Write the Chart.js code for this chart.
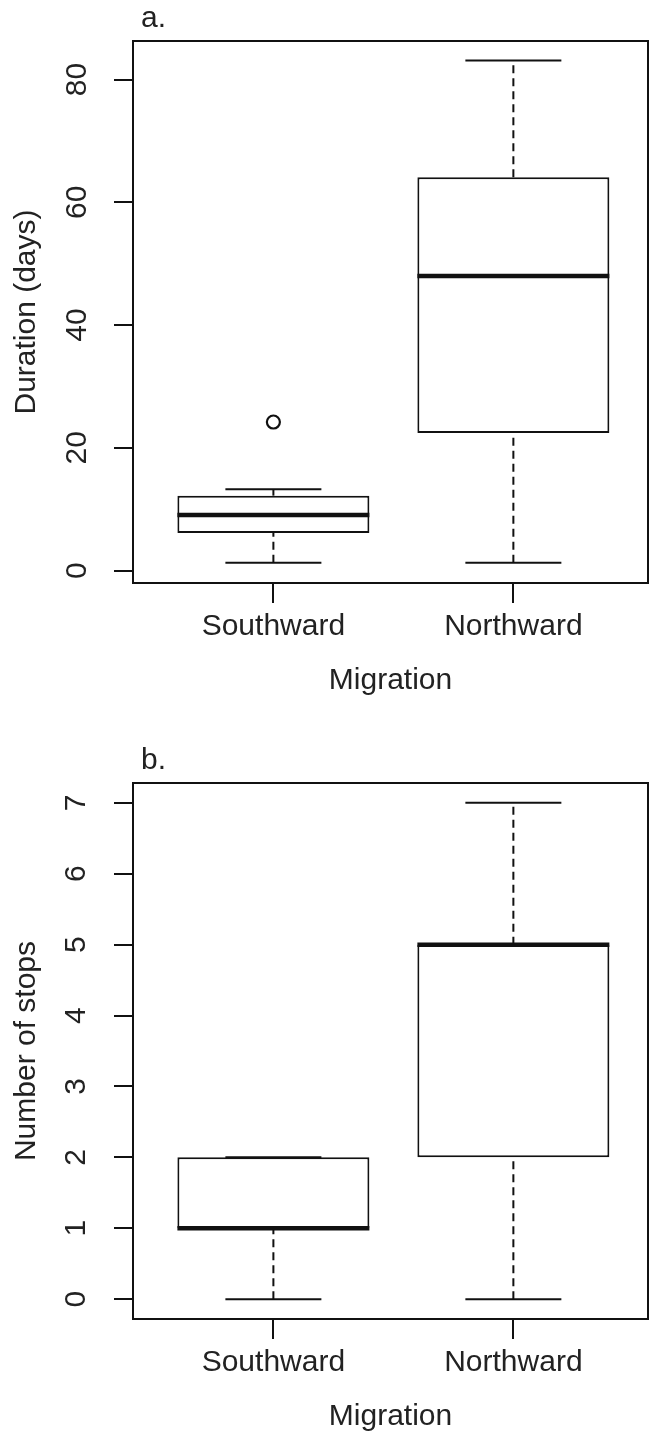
<!DOCTYPE html>
<html lang="en">

<head>
    <meta charset="UTF-8">
    <title>Migration duration and stops</title>
    <script src="https://cdn.jsdelivr.net/npm/chart.js"></script>
    <style>
        body { margin: 0; background: #fff; }
        .panel { position: absolute; left: 0; width: 649px; height: 699px; }
        #panelA { top: 0; }
        #panelB { top: 736px; }
    </style>
</head>

<body>
    <div class="panel" id="panelA"><canvas id="chartA" width="649" height="699"></canvas></div>
    <div class="panel" id="panelB"><canvas id="chartB" width="649" height="699"></canvas></div>

    <script>
        // Groups on the x axis
        const groups = ['Southward', 'Northward'];

        // a. Duration (days): whisker ends, quartiles, median, outliers
        const durMin = [1.25, 1.25];
        const durQ1 = [6.1, 22.4];
        const durMedian = [9.05, 48.0];
        const durQ3 = [12.2, 64.1];
        const durMax = [13.25, 83.1];
        const durOutliers = [[24.2], []];
        const durTicks = [0, 20, 40, 60, 80];

        // b. Number of stops
        const stopMin = [0, 0];
        const stopQ1 = [1, 2];
        const stopMedian = [1, 5];
        const stopQ3 = [2, 5];
        const stopMax = [2, 7];
        const stopOutliers = [[], []];
        const stopTicks = [0, 1, 2, 3, 4, 5, 6, 7];

        const ink = '#111';
        const textColor = '#222';
        const font = { family: "'Liberation Sans', Arial, sans-serif", size: 30 };

        // Outer box around the plotting region + panel letter
        const frame = {
            id: 'frame',
            afterDraw(chart, args, opts) {
                const { ctx, chartArea: a } = chart;
                ctx.save();
                ctx.strokeStyle = ink;
                ctx.lineWidth = 2;
                ctx.strokeRect(a.left, a.top, a.right - a.left, a.bottom - a.top);
                ctx.fillStyle = textColor;
                ctx.font = '30px ' + font.family;
                ctx.textBaseline = 'alphabetic';
                ctx.textAlign = 'left';
                ctx.fillText(opts.label, a.left + 8, a.top - 14);
                ctx.restore();
            }
        };

        function segment(points, dashed, width) {
            return {
                type: 'line',
                data: points,
                borderColor: ink,
                borderWidth: width,
                borderDash: dashed ? [8, 5] : [],
                borderCapStyle: 'butt',
                pointRadius: 0,
                fill: false,
                order: 1
            };
        }

        // Build box plot pieces from the summary arrays
        function boxDatasets(mins, q1s, meds, q3s, maxs, outs) {
            const half = 0.4, cap = 0.2;
            const sets = [];
            meds.forEach((m, i) => {
                const x = i + 1;
                const s = segment([{ x: x - half, y: m }, { x: x + half, y: m }], false, 4.5);
                s.order = 0;
                sets.push(s);
            });
            sets.push({
                type: 'bar',
                data: q1s.map((q, i) => ({ x: i + 1, y: [q, q3s[i]] })),
                backgroundColor: '#fff',
                borderColor: ink,
                borderWidth: 2,
                borderSkipped: false,
                barPercentage: 0.8,
                categoryPercentage: 1,
                order: 2
            });
            mins.forEach((lo, i) => {
                const x = i + 1;
                if (lo < q1s[i]) sets.push(segment([{ x: x, y: lo }, { x: x, y: q1s[i] }], true, 2));
                if (maxs[i] > q3s[i]) sets.push(segment([{ x: x, y: q3s[i] }, { x: x, y: maxs[i] }], true, 2));
                sets.push(segment([{ x: x - cap, y: lo }, { x: x + cap, y: lo }], false, 2));
                sets.push(segment([{ x: x - cap, y: maxs[i] }, { x: x + cap, y: maxs[i] }], false, 2));
            });
            const pts = [];
            outs.forEach((list, i) => list.forEach(v => pts.push({ x: i + 1, y: v })));
            if (pts.length) {
                sets.push({
                    type: 'scatter',
                    data: pts,
                    pointStyle: 'circle',
                    pointRadius: 6.5,
                    pointBorderWidth: 2.2,
                    pointBackgroundColor: '#fff',
                    pointBorderColor: ink,
                    order: 0
                });
            }
            return sets;
        }

        function makeChart(id, label, yTitle, datasets, yTicks, yMin, yMax, tickPad) {
            return new Chart(document.getElementById(id), {
                type: 'bar',
                data: { datasets: datasets },
                plugins: [frame],
                options: {
                    responsive: false,
                    animation: false,
                    layout: { autoPadding: false, padding: { top: 41, right: 1, bottom: 0, left: 0 } },
                    plugins: {
                        legend: { display: false },
                        tooltip: { enabled: false },
                        frame: { label: label }
                    },
                    scales: {
                        x: {
                            type: 'linear',
                            offset: false,
                            min: 0.415,
                            max: 2.561,
                            afterFit: s => { s.height = 116; },
                            afterBuildTicks: s => { s.ticks = groups.map((g, i) => ({ value: i + 1 })); },
                            ticks: {
                                callback: v => groups[v - 1],
                                font: font, color: textColor,
                                padding: 6, maxRotation: 0, autoSkip: false
                            },
                            grid: { offset: false, drawOnChartArea: false, tickLength: 20, color: ink, lineWidth: 2 },
                            border: { display: false },
                            title: { display: true, text: 'Migration', font: font, color: textColor, padding: { top: 0, bottom: 0 } }
                        },
                        y: {
                            type: 'linear',
                            min: yMin,
                            max: yMax,
                            afterFit: s => { s.width = 133; },
                            afterBuildTicks: s => { s.ticks = yTicks.map(v => ({ value: v })); },
                            ticks: {
                                font: font, color: textColor,
                                padding: tickPad, minRotation: 90, maxRotation: 90, crossAlign: 'center'
                            },
                            grid: { drawOnChartArea: false, tickLength: 19, color: ink, lineWidth: 2 },
                            border: { display: false },
                            title: { display: true, text: yTitle, font: font, color: textColor, padding: { top: 9, bottom: 0 } }
                        }
                    }
                }
            });
        }

        makeChart('chartA', 'a.', 'Duration (days)',
            boxDatasets(durMin, durQ1, durMedian, durQ3, durMax, durOutliers),
            durTicks, -2.03, 86.28, 20);

        makeChart('chartB', 'b.', 'Number of stops',
            boxDatasets(stopMin, stopQ1, stopMedian, stopQ3, stopMax, stopOutliers),
            stopTicks, -0.28, 7.28, 29);
    </script>
</body>

</html>
